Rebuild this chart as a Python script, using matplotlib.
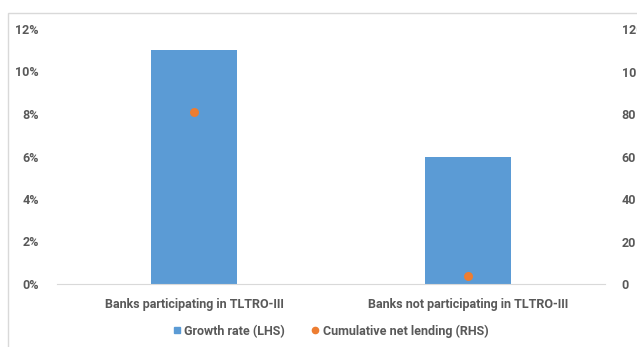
import matplotlib.pyplot as plt
from matplotlib.patches import Rectangle
from matplotlib.lines import Line2D

categories = ["Banks participating in TLTRO-III", "Banks not participating in TLTRO-III"]
growth_rate = [11, 6]          # % (LHS)
net_lending = [81, 4]          # cumulative net lending (RHS)

blue = "#5B9BD5"
orange = "#ED7D31"
grey = "#595959"

plt.rcParams['font.family'] = ['Roboto', 'DejaVu Sans']
plt.rcParams['font.weight'] = 'bold'
fs = 9

fig = plt.figure(figsize=(6.37, 3.47), dpi=100)
ax = fig.add_axes([57 / 637, 1 - 284 / 347, 548 / 637, 255 / 347])

# outer chart frame (cut off at right/bottom like the source)
fig.patches.append(Rectangle((8 / 637, -0.1), 1.2, 1 - 13 / 347 + 0.1,
                             transform=fig.transFigure, fill=False,
                             edgecolor="#d9d9d9", linewidth=1))

x = range(len(categories))
ax.bar(x, growth_rate, width=0.314, color=blue, zorder=2)
ax.set_xlim(-0.5, 1.5)
ax.set_ylim(0, 12)
ax.set_yticks(range(0, 13, 2))
ax.set_yticklabels([f"{v}%" for v in range(0, 13, 2)])
ax.set_xticks(list(x))
ax.set_xticklabels(categories)

ax2 = ax.twinx()
ax2.scatter(x, net_lending, s=30, color=orange, zorder=3)
ax2.set_ylim(0, 120)
ax2.set_yticks(range(0, 121, 20))

for a in (ax, ax2):
    for s in a.spines.values():
        s.set_visible(False)
    a.tick_params(length=0, labelsize=fs, labelcolor=grey)
    for t in a.get_xticklabels() + a.get_yticklabels():
        t.set_fontweight("bold")
ax.spines["bottom"].set_visible(True)
ax.spines["bottom"].set_color("#d9d9d9")
ax.tick_params(axis="y", pad=13)
ax.tick_params(axis="x", pad=10)
ax2.tick_params(axis="y", pad=12)

handles = [Line2D([], [], marker="s", linestyle="", color=blue, markersize=5),
           Line2D([], [], marker="o", linestyle="", color=orange, markersize=4.5)]
leg = fig.legend(handles, ["Growth rate (LHS)", "Cumulative net lending (RHS)"],
                 loc="center", bbox_to_anchor=(330 / 637, 1 - 331 / 347),
                 ncol=2, frameon=False, handlelength=0.8, handletextpad=0.2,
                 columnspacing=2.0, prop={"weight": "bold", "size": fs})
for t in leg.get_texts():
    t.set_color(grey)

fig.savefig("out.png", dpi=100)
